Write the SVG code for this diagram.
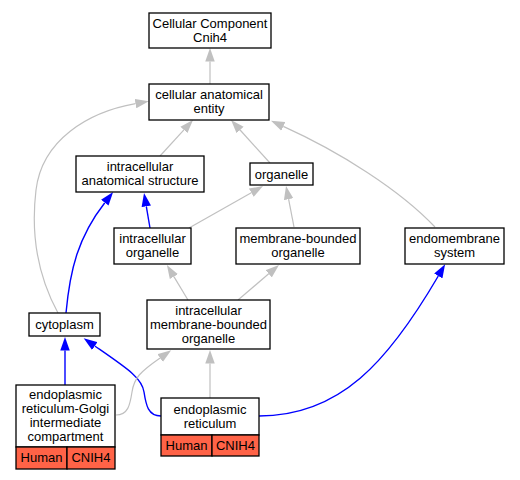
<svg xmlns="http://www.w3.org/2000/svg" width="520" height="480" viewBox="0 0 520 480">
<style>
text{font-family:"Liberation Sans",Arial,sans-serif;font-size:13px;fill:#000;text-anchor:middle}
.box{fill:#fff;stroke:#000;stroke-width:1.3}
.cell{fill:#ff6347;stroke:#000;stroke-width:1.3}
.g{fill:none;stroke:#c0c0c0;stroke-width:1.2}
.b{fill:none;stroke:#0000ff;stroke-width:1.4}
</style>
<defs>
<marker id="ag" markerUnits="userSpaceOnUse" markerWidth="14" markerHeight="10" viewBox="0 -5 14 10" refX="0" refY="0" orient="auto"><path d="M0,-4.75 L13.5,0 L0,4.75 z" fill="#c0c0c0"/></marker>
<marker id="ab" markerUnits="userSpaceOnUse" markerWidth="14" markerHeight="10" viewBox="0 -5 14 10" refX="0" refY="0" orient="auto"><path d="M0,-4.75 L13.5,0 L0,4.75 z" fill="#0000ff"/></marker>
</defs>
<g id="connectors">
<path class="g" marker-end="url(#ag)" d="M210,84 L210,61.5"/>
<path class="g" marker-end="url(#ag)" d="M160,156 L183.9,129.9"/>
<path class="g" marker-end="url(#ag)" d="M270,163 L240.1,130"/>
<path class="g" marker-end="url(#ag)" d="M435,227 C400,190 340,152 283.3,126.4"/>
<path class="g" marker-end="url(#ag)" d="M58,313 C40,280 30,240 36,190 C42,140 88,112 135.5,103.6"/>
<path class="b" marker-end="url(#ab)" d="M150,228 L146.3,206.3"/>
<path class="g" marker-end="url(#ag)" d="M189,228 L251.3,192.7"/>
<path class="g" marker-end="url(#ag)" d="M294,227 L288.6,199.2"/>
<path class="b" marker-end="url(#ab)" d="M66,313 C70,270 78,237 104.8,202.7"/>
<path class="g" marker-end="url(#ag)" d="M188,300 L173.9,276.6"/>
<path class="g" marker-end="url(#ag)" d="M238,300 L268.7,273.8"/>
<path class="b" marker-end="url(#ab)" d="M65,385 L65,350.5"/>
<path class="b" marker-end="url(#ab)" d="M161,416 C148,416 146,405 144,392 C142,378 128,369 94.8,346"/>
<path class="g" marker-end="url(#ag)" d="M116,415 C128,415 130,405 132,392 C134,378 140,372 160.1,358"/>
<path class="g" marker-end="url(#ag)" d="M210,398 L210,363.5"/>
<path class="b" marker-end="url(#ab)" d="M259,416 C340,416 388,362 438.3,276"/>
</g>
<g id="cellular_component_cnih4"><rect class="box" x="149" y="13" width="122" height="35"/><text x="210" y="27.5">Cellular Component</text><text x="210" y="41.5">Cnih4</text></g>
<g id="cellular_anatomical_entity"><rect class="box" x="149" y="84" width="120" height="36"/><text x="209" y="99">cellular anatomical</text><text x="209" y="113">entity</text></g>
<g id="intracellular_anatomical_structure"><rect class="box" x="76" y="156" width="128" height="36"/><text x="140" y="171">intracellular</text><text x="140" y="185">anatomical structure</text></g>
<g id="organelle"><rect class="box" x="250" y="163" width="63" height="22"/><text x="281.5" y="178.5">organelle</text></g>
<g id="intracellular_organelle"><rect class="box" x="114" y="228" width="77" height="36"/><text x="152.5" y="243">intracellular</text><text x="152.5" y="257">organelle</text></g>
<g id="membrane_bounded_organelle"><rect class="box" x="236" y="228" width="124" height="36"/><text x="298" y="243">membrane-bounded</text><text x="298" y="257">organelle</text></g>
<g id="endomembrane_system"><rect class="box" x="405" y="228" width="99" height="36"/><text x="454.5" y="243">endomembrane</text><text x="454.5" y="257">system</text></g>
<g id="cytoplasm"><rect class="box" x="29" y="313" width="71" height="23"/><text x="64.5" y="329">cytoplasm</text></g>
<g id="intracellular_membrane_bounded_organelle"><rect class="box" x="147" y="300" width="123" height="49"/><text x="208.5" y="314.5">intracellular</text><text x="208.5" y="328.5">membrane-bounded</text><text x="208.5" y="342.5">organelle</text></g>
<g id="er_golgi_intermediate_compartment"><rect class="box" x="16" y="385" width="99" height="62"/><text x="65.5" y="399">endoplasmic</text><text x="65.5" y="413">reticulum-Golgi</text><text x="65.5" y="427">intermediate</text><text x="65.5" y="441">compartment</text><rect class="cell" x="16" y="447" width="51" height="22"/><rect class="cell" x="67" y="447" width="48" height="22"/><text x="41.5" y="462">Human</text><text x="91" y="462">CNIH4</text></g>
<g id="endoplasmic_reticulum"><rect class="box" x="161" y="398" width="98" height="37"/><text x="210" y="413.5">endoplasmic</text><text x="210" y="427.5">reticulum</text><rect class="cell" x="161" y="435" width="51" height="21"/><rect class="cell" x="212" y="435" width="47" height="21"/><text x="186.5" y="450">Human</text><text x="235.5" y="450">CNIH4</text></g>
</svg>
